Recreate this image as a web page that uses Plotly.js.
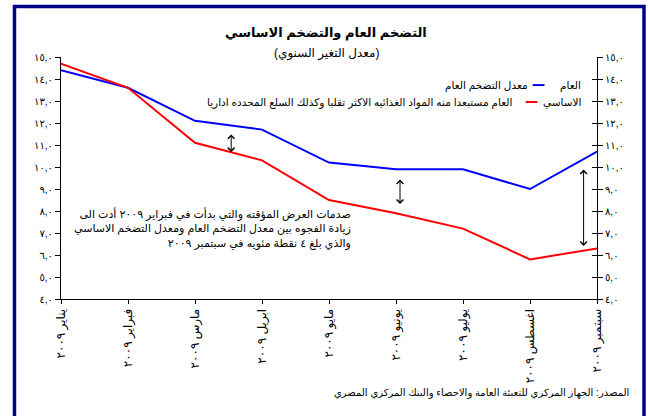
<!DOCTYPE html>
<html><head><meta charset="utf-8">
<script src="https://cdn.plot.ly/plotly-3.0.1.min.js"></script>
<style>html,body{margin:0;padding:0;background:#fff}#chart{width:648px;height:416px}</style>
</head><body><div id="chart"></div>
<script>
const months = ['يناير ٢٠٠٩','فبراير ٢٠٠٩','مارس ٢٠٠٩','ابريل ٢٠٠٩','مايو ٢٠٠٩','يونيو ٢٠٠٩','يوليو ٢٠٠٩','اغسطس ٢٠٠٩','سبتمبر ٢٠٠٩'];
const generalInflation = [14.4, 13.6, 12.1, 11.7, 10.2, 9.9, 9.9, 9.0, 10.7];
const coreInflation = [14.7, 13.6, 11.1, 10.3, 8.5, 7.9, 7.2, 5.8, 6.3];
const yTickVals = [4,5,6,7,8,9,10,11,12,13,14,15];
const yTickText = ['٤,٠','٥,٠','٦,٠','٧,٠','٨,٠','٩,٠','١٠,٠','١١,٠','١٢,٠','١٣,٠','١٤,٠','١٥,٠'];

const AR = 'Arial, "DejaVu Sans", sans-serif';
const traces = [
  {x: months, y: generalInflation, type:'scatter', mode:'lines', line:{color:'#0000FF', width:2}, hoverinfo:'skip'},
  {x: months, y: coreInflation, type:'scatter', mode:'lines', line:{color:'#FF0000', width:2}, hoverinfo:'skip'},
  {x: months, y: coreInflation, type:'scatter', mode:'lines', yaxis:'y2', line:{color:'rgba(0,0,0,0)', width:0}, hoverinfo:'skip'},
  {x: months, y: coreInflation, type:'scatter', mode:'lines', yaxis:'y3', line:{color:'rgba(0,0,0,0)', width:0}, hoverinfo:'skip'}
];
const yCommon = {range:[4,15], tickvals:yTickVals, ticktext:yTickText, showgrid:false, zeroline:false,
  showline:true, linecolor:'#000', linewidth:1, tickcolor:'#000', ticklen:5, tickfont:{family:AR, size:10, color:'#000'}};
const layout = {
  width:648, height:416, margin:{l:61, r:51, t:57, b:117},
  paper_bgcolor:'#fff', plot_bgcolor:'#fff', showlegend:false,
  font:{family:AR, color:'#000'},
  xaxis:{type:'category', range:[0,8], showgrid:false, zeroline:false, showline:true, linecolor:'#000', linewidth:1,
    ticks:'outside', ticklen:4, tickcolor:'#000', tickangle:-90, tickfont:{family:AR, size:12, color:'#000'}},
  yaxis:Object.assign({}, yCommon, {ticks:'outside'}),
  yaxis2:Object.assign({}, yCommon, {overlaying:'y', side:'right', ticks:'outside'}),
  yaxis3:Object.assign({}, yCommon, {overlaying:'y', side:'right', ticks:'inside', showticklabels:false}),
  shapes:[
    {type:'rect', xref:'paper', yref:'paper', x0:-0.0868, x1:1.0877, y0:-0.65, y1:1.2087, line:{color:'#00008B', width:3.5}},
    {type:'line', xref:'paper', yref:'paper', x0:0.880, x1:0.902, y0:0.884, y1:0.884, line:{color:'#0000FF', width:2}},
    {type:'line', xref:'paper', yref:'paper', x0:0.867, x1:0.889, y0:0.814, y1:0.814, line:{color:'#FF0000', width:2}}
  ],
  annotations:[
    {text:'<b>التضخم العام والتضخم الاساسي</b>', xref:'paper', yref:'paper', x:0.495, y:1.10, xanchor:'center', yanchor:'middle', showarrow:false, font:{family:AR, size:13}},
    {text:'(معدل التغير السنوي)', xref:'paper', yref:'paper', x:0.495, y:1.014, xanchor:'center', yanchor:'middle', showarrow:false, font:{family:AR, size:12}},
    {text:'العام', xref:'paper', yref:'paper', x:0.974, y:0.884, xanchor:'right', yanchor:'middle', showarrow:false, font:{family:AR, size:10.5}},
    {text:'معدل التضخم العام', xref:'paper', yref:'paper', x:0.875, y:0.884, xanchor:'right', yanchor:'middle', showarrow:false, font:{family:AR, size:10.5}},
    {text:'الاساسي', xref:'paper', yref:'paper', x:0.974, y:0.814, xanchor:'right', yanchor:'middle', showarrow:false, font:{family:AR, size:10.5}},
    {text:'العام مستبعدا منه المواد الغذائيه الاكثر تقلبا وكذلك السلع المحدده اداريا', xref:'paper', yref:'paper', x:0.845, y:0.814, xanchor:'right', yanchor:'middle', showarrow:false, font:{family:AR, size:10.5}},
    {text:'صدمات العرض المؤقته والتي بدأت في فبراير ٢٠٠٩ أدت الى<br>زيادة الفجوه بين معدل التضخم العام ومعدل التضخم الاساسي<br>والذي بلغ ٤ نقطة مئويه في سبتمبر ٢٠٠٩', xref:'paper', yref:'paper', x:0.545, y:0.39, xanchor:'right', yanchor:'top', align:'right', showarrow:false, font:{family:AR, size:11}},
    {text:'المصدر: الجهاز المركزي للتعبئة العامة والاحصاء والبنك المركزي المصري', xref:'paper', yref:'paper', x:1.064, y:-0.388, xanchor:'right', yanchor:'middle', showarrow:false, font:{family:AR, size:10}},
    {text:'', x:2.54, y:10.68, ax:2.54, ay:11.55, xref:'x', yref:'y', axref:'x', ayref:'y', showarrow:true, arrowside:'end+start', arrowhead:4, arrowsize:1.3, arrowwidth:1, arrowcolor:'#000'},
    {text:'', x:5.06, y:8.32, ax:5.06, ay:9.5, xref:'x', yref:'y', axref:'x', ayref:'y', showarrow:true, arrowside:'end+start', arrowhead:4, arrowsize:1.3, arrowwidth:1, arrowcolor:'#000'},
    {text:'', x:7.8, y:6.41, ax:7.8, ay:9.95, xref:'x', yref:'y', axref:'x', ayref:'y', showarrow:true, arrowside:'end+start', arrowhead:4, arrowsize:1.3, arrowwidth:1, arrowcolor:'#000'}
  ]
};
Plotly.newPlot('chart', traces, layout, {staticPlot:true, displayModeBar:false});
</script></body></html>
